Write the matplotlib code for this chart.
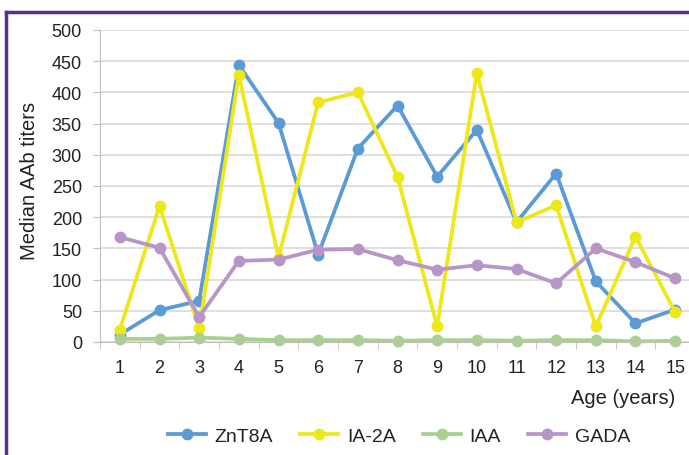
import matplotlib.pyplot as plt
from matplotlib.lines import Line2D

plt.rcParams['font.family'] = ['Liberation Sans', 'DejaVu Sans']

ages = list(range(1, 16))
znt8a = [12, 51, 66, 444, 351, 140, 310, 379, 265, 340, 192, 270, 97, 30, 52]
ia2a = [20, 218, 22, 428, 135, 384, 400, 265, 25, 431, 192, 219, 25, 169, 48]
iaa = [5, 5, 7, 5, 3, 3, 3, 2, 3, 3, 2, 3, 3, 1, 2]
gada = [168, 151, 40, 130, 132, 148, 149, 131, 116, 123, 117, 94, 150, 128, 102]

series = [('ZnT8A', znt8a, '#5B9BD5'),
          ('IA-2A', ia2a, '#EEE81A'),
          ('IAA', iaa, '#A9D18E'),
          ('GADA', gada, '#B795C6')]

fig = plt.figure(figsize=(6.89, 4.56), dpi=100)
ax = fig.add_axes([100/689, 113/456, 595/689, 312/456])

for name, vals, col in series:
    ax.plot(ages, vals, color=col, lw=2.7, marker='o', ms=7.5, label=name,
            solid_joinstyle='round', clip_on=False)

ax.set_xlim(0.5, 15.5)
ax.set_ylim(0, 500)
ax.set_yticks(range(0, 501, 50))
ax.set_xticks(ages)
ax.set_xticks([x + 0.5 for x in range(0, 15)], minor=True)
ax.tick_params(axis='x', which='major', length=0, pad=12, labelsize=13, colors='#222222')
ax.tick_params(axis='x', which='minor', length=5, color='#BFBFBF')
ax.tick_params(axis='y', length=5, labelsize=13, colors='#222222', pad=8)
ax.tick_params(axis='y', color='#BFBFBF')
ax.grid(axis='y', color='#D9D9D9', lw=1.2)
ax.set_axisbelow(True)
for s in ['top', 'right']:
    ax.spines[s].set_visible(False)
ax.spines['left'].set_color('#BFBFBF')
ax.spines['bottom'].set_color('#BFBFBF')

ax.set_ylabel('Median AAb titers', fontsize=14.5, color='#222222')
ax.yaxis.set_label_coords(-0.102, 0.519)
fig.text(675/689, 1 - 398/456, 'Age (years)', ha='right', va='center', fontsize=14.5, color='#222222')

ax.legend(loc='center', bbox_to_anchor=(399/689, 1 - 437/456), bbox_transform=fig.transFigure,
          ncol=4, frameon=False, fontsize=14, handlelength=1.95, columnspacing=1.4,
          handletextpad=0.45, labelcolor='#222222')

# purple frame (left and top edges visible)
fig.add_artist(Line2D([6/689, 6/689], [0, 1 - 13/456], color='#5B2D91', lw=2.5))
fig.add_artist(Line2D([6/689, 1], [1 - 13/456, 1 - 13/456], color='#5B2D91', lw=2.5))

fig.savefig('out.png', dpi=100)
